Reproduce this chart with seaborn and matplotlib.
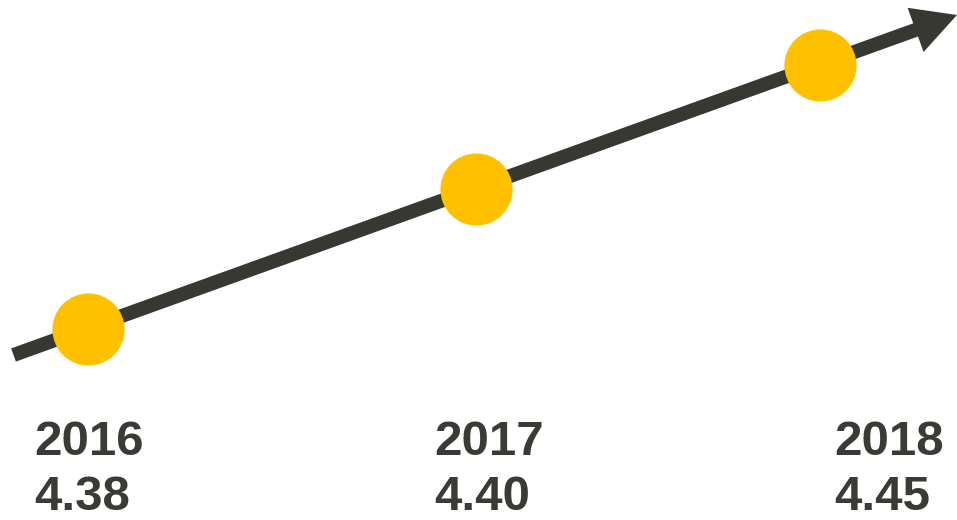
import matplotlib
matplotlib.use("Agg")
import matplotlib.pyplot as plt
import seaborn as sns
import pandas as pd

sns.set_theme(style="white")
plt.rcParams["font.family"] = ["Liberation Sans", "DejaVu Sans"]

# data
years = ["2016", "2017", "2018"]
values = [4.38, 4.40, 4.45]

# layout (pixel space, figure is 957x520)
arrow_start = (13.5, 355)
arrow_end = (957, 15)
dot_frac = [0.079, 0.49, 0.855]   # where each dot sits along the arrow
label_left = 34
label_step = 400

dark = "#383833"
text_col = "#3b3b36"
yellow = "#FFC000"

fig = plt.figure(figsize=(9.57, 5.2), dpi=100)
ax = fig.add_axes([0, 0, 1, 1])
ax.set_xlim(0, 957)
ax.set_ylim(520, 0)
ax.axis("off")

x0, y0 = arrow_start
x1, y1 = arrow_end
ax.arrow(x0, y0, x1 - x0, y1 - y0, width=14, head_width=47, head_length=44,
         length_includes_head=True, color=dark, lw=0, zorder=1)

df = pd.DataFrame({
    "year": years,
    "value": values,
    "x": [x0 + f * (x1 - x0) for f in dot_frac],
    "y": [y0 + f * (y1 - y0) + 1 for f in dot_frac],
})
sns.scatterplot(data=df, x="x", y="y", s=2700, color=yellow, linewidth=0,
                ax=ax, zorder=3, legend=False)

for i, (yr, v) in enumerate(zip(years, values)):
    lx = label_left + label_step * i
    ax.text(lx, 455, yr, fontsize=35.5, fontweight="bold", color=text_col,
            va="baseline", ha="left")
    ax.text(lx, 519.5, f"{v:.2f}", fontsize=35.5, fontweight="bold",
            color=text_col, va="bottom", ha="left")

ax.set_xlabel("")
ax.set_ylabel("")
fig.savefig("out.png", dpi=100)
